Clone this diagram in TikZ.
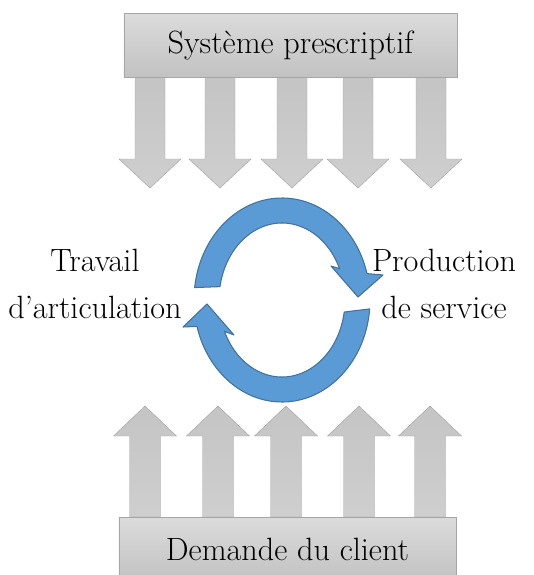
\documentclass[tikz,border=0pt]{standalone}
\usetikzlibrary{calc}
\definecolor{bleu}{RGB}{91,155,213}
\definecolor{bleufonce}{RGB}{65,113,156}
\definecolor{bord}{RGB}{166,166,166}
\tikzset{
  boite/.style={draw=bord,top color=gray!28,bottom color=gray!48,minimum width=9.99cm,minimum height=1.92cm,inner sep=0pt},
  bloc/.style={draw=bord,top color=gray!46,bottom color=gray!38},
  fleche/.style={draw=bleufonce,fill=bleu,line width=0.9pt,line join=round},
  texte/.style={font=\fontsize{27.5}{40}\selectfont}
}
\begin{document}
\begin{tikzpicture}[x=0.03cm,y=0.03cm]
        \useasboundingbox (0,0) rectangle (534,-575);
        \clip (0,0) rectangle (534,-575);

        % стрелки вниз
        \foreach \x in {150,220,292,358,431}
          \draw[bloc] ({\x-15},-77) -- ({\x+15},-77) -- ({\x+15},-159) -- ({\x+31},-159)
            -- (\x,-188) -- ({\x-31},-159) -- ({\x-15},-159) -- cycle;

        % стрелки вверх
        \foreach \x in {145,218,286,359,430}
          \draw[bloc] ({\x-15.5},-517) -- ({\x+15.5},-517) -- ({\x+15.5},-436) -- ({\x+31.5},-436)
            -- (\x,-406) -- ({\x-31.5},-436) -- ({\x-15.5},-436) -- cycle;

        % блоки
        \node[boite,texte] (sys) at (290.5,-45) {Système prescriptif};
        \node[boite,texte,minimum width=10.11cm] (dem) at (287.5,-549) {Demande du client};

        % цикл
        \coordinate (centre) at (282,-300);
        \draw[fleche] ($(centre)+(173:88 and 102)$) arc[start angle=173,end angle=15,x radius=88,y radius=102]
          -- ($(centre)+(101,25)$) -- ($(centre)+(76,3)$) -- ($(centre)+(49,34)$)
          -- ($(centre)+(24:63 and 77)$) arc[start angle=24,end angle=170,x radius=63,y radius=77] -- cycle;
        \draw[fleche] ($(centre)+(-5:88 and 102)$) arc[start angle=-5,end angle=-165,x radius=88,y radius=102]
          -- ($(centre)+(-99,-27)$) -- ($(centre)+(-75,-4)$) -- ($(centre)+(-48,-35)$)
          -- ($(centre)+(-156:63 and 77)$) arc[start angle=-156,end angle=-9,x radius=63,y radius=77] -- cycle;

        % подписи
        \node[texte,align=center] (trav) at (95,-284) {Travail\\d’articulation};
        \node[texte,align=center] (prod) at (444,-284) {Production\\de service};
    \end{tikzpicture}
\end{document}
